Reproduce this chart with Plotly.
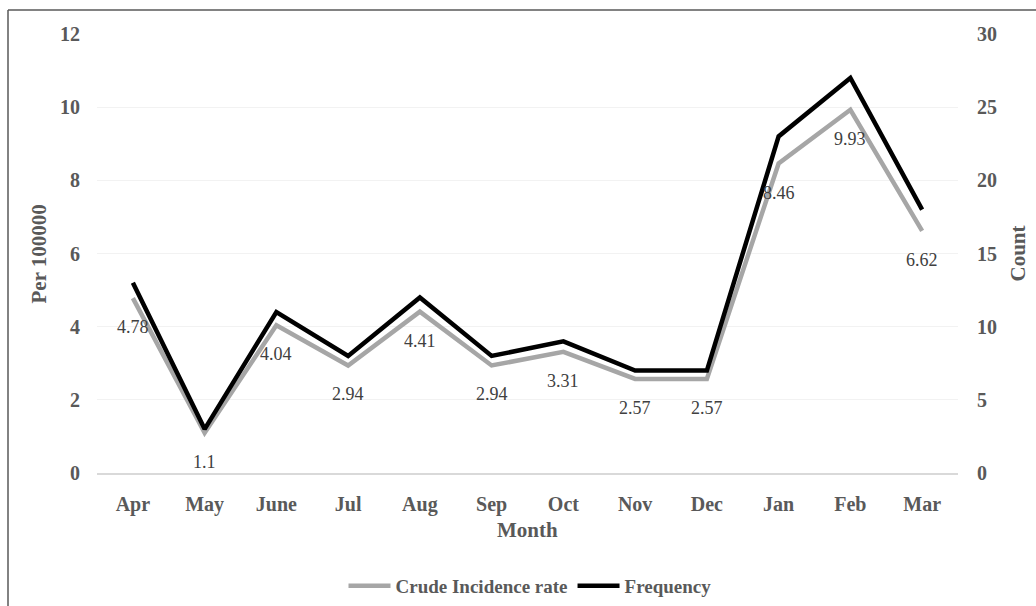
import plotly.graph_objects as go

months = ["Apr", "May", "June", "Jul", "Aug", "Sep", "Oct", "Nov", "Dec", "Jan", "Feb", "Mar"]
crude_rate = [4.78, 1.1, 4.04, 2.94, 4.41, 2.94, 3.31, 2.57, 2.57, 8.46, 9.93, 6.62]
frequency = [13, 3, 11, 8, 12, 8, 9, 7, 7, 23, 27, 18]

FONT = "Liberation Serif"
TXT = "#595959"

# plot area in pixels
L, R, T, B = 97, 958, 34, 473
PW, PH = R - L, B - T


def px(x):
    return (x - L) / PW


def py(y):
    return (B - y) / PH


fig = go.Figure()
fig.add_trace(go.Scatter(x=months, y=crude_rate, mode="lines", name="Crude Incidence rate",
                         line=dict(color="#a6a6a6", width=4.5), yaxis="y"))
fig.add_trace(go.Scatter(x=months, y=frequency, mode="lines", name="Frequency",
                         line=dict(color="#000000", width=4.5), yaxis="y2"))

annotations = []
for m, v in zip(months, crude_rate):
    annotations.append(dict(x=m, y=v, xref="x", yref="y", text=f"{v:g}", showarrow=False,
                            yshift=-29, yanchor="middle", xanchor="center",
                            font=dict(family=FONT, size=18, color="#404040")))
annotations += [
    dict(x=px(38), y=0.5, xref="paper", yref="paper", text="<b>Per 100000</b>", textangle=-90,
         xanchor="center", yanchor="middle",
         showarrow=False, font=dict(family=FONT, size=21, color=TXT)),
    dict(x=px(1017), y=0.5, xref="paper", yref="paper", text="<b>Count</b>", textangle=-90,
         xanchor="center", yanchor="middle",
         showarrow=False, font=dict(family=FONT, size=21, color=TXT)),
    dict(x=px(527), y=py(530), xref="paper", yref="paper", text="<b>Month</b>",
         xanchor="center", yanchor="middle",
         showarrow=False, font=dict(family=FONT, size=21, color=TXT)),
]

tickfont = dict(family=FONT, size=20, color=TXT, weight="bold")

fig.update_layout(
    width=1036, height=606,
    margin=dict(l=L, r=1036 - R, t=T, b=606 - B),
    paper_bgcolor="white", plot_bgcolor="white",
    showlegend=True,
    legend=dict(orientation="h", x=px(530), xanchor="center", y=1 - 586 / 606, yanchor="middle",
                yref="container",
                font=dict(family=FONT, size=19, color=TXT, weight="bold"),
                itemwidth=42, tracegroupgap=0),
    xaxis=dict(type="category", range=[-0.5, 11.5], showgrid=False, showline=True,
               linecolor="#d9d9d9", linewidth=1.5, ticks="", ticklabelstandoff=12,
               automargin=False, tickfont=tickfont),
    yaxis=dict(range=[0, 12], dtick=2, showgrid=True, gridcolor="#f2f2f2", gridwidth=1,
               zeroline=False, ticks="", ticklabelstandoff=16, automargin=False,
               tickfont=tickfont),
    yaxis2=dict(range=[0, 30], dtick=5, overlaying="y", side="right", showgrid=False,
                zeroline=False, ticks="", ticklabelstandoff=18, automargin=False,
                tickfont=tickfont),
    annotations=annotations,
    shapes=[
        dict(type="line", xref="paper", yref="paper", x0=px(8), x1=px(8), y0=py(10), y1=py(620),
             line=dict(color="#595959", width=1.5)),
        dict(type="line", xref="paper", yref="paper", x0=px(8), x1=px(1050), y0=py(10), y1=py(10),
             line=dict(color="#595959", width=1.5)),
    ],
)

fig.write_html("out.html", post_script="document.body.style.margin='0';",
               config={"displayModeBar": False})
